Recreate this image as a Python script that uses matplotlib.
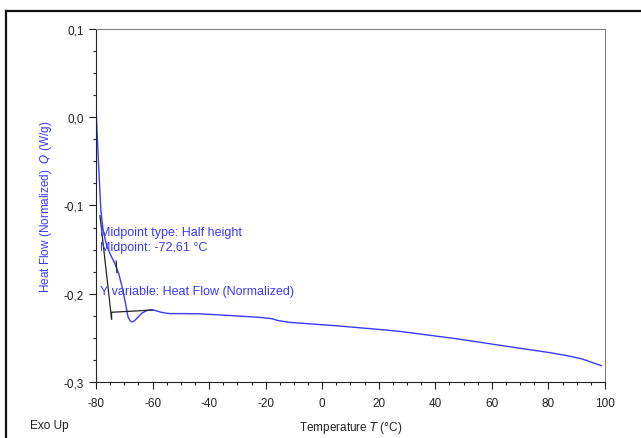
import matplotlib.pyplot as plt
from matplotlib.lines import Line2D
from matplotlib.ticker import MultipleLocator, FuncFormatter

plt.rcParams['font.family'] = ['Liberation Sans', 'DejaVu Sans']
plt.rcParams['axes.unicode_minus'] = False

# DSC curve
temp = [-79.9, -79.6, -79.0, -78.3, -77.5, -76.2, -75.0, -73.3, -71.9, -70.8,
        -69.7, -68.7, -67.9, -67.3, -66.5, -65.6, -63.8, -62.0, -60.3, -58.5,
        -57.0, -54.0, -50.0, -43.0, -32.0, -22.0, -18.0, -15.5, -11.4, 3.8,
        20.4, 27.5, 47.5, 67.6, 80.0, 86.4, 92.0, 98.7]
heat = [0.005, -0.02, -0.06, -0.105, -0.128, -0.146, -0.155, -0.166, -0.178, -0.192,
        -0.209, -0.226, -0.231, -0.232, -0.231, -0.228, -0.222, -0.219, -0.218, -0.2195,
        -0.221, -0.2225, -0.2225, -0.2228, -0.2248, -0.2268, -0.2282, -0.2305, -0.2325, -0.236,
        -0.2405, -0.2427, -0.251, -0.2607, -0.2665, -0.270, -0.274, -0.2815]

# glass transition construction lines
tangent_t = [-78.6, -74.5]
tangent_q = [-0.1115, -0.2286]
base_t = [-74.5, -74.5, -60.0]
base_q = [-0.2286, -0.221, -0.2185]
mid_t = [-72.9, -72.6]
mid_q = [-0.163, -0.176]

blue = '#3a3aff'

fig = plt.figure(figsize=(6.41, 4.39), dpi=100)
ax = fig.add_axes([0.1498, 0.1276, 0.794, 0.8041])

ax.plot(temp, heat, color=blue, lw=1.0)
ax.plot(tangent_t, tangent_q, color='#222222', lw=0.9)
ax.plot(base_t, base_q, color='#222222', lw=0.9)
ax.plot(mid_t, mid_q, color='#222222', lw=0.9)

ax.text(-78.6, -0.134, 'Midpoint type: Half height', color=blue, fontsize=9)
ax.text(-78.6, -0.151, 'Midpoint: -72,61 °C', color=blue, fontsize=9)
ax.text(-78.6, -0.200, 'Y variable: Heat Flow (Normalized)', color=blue, fontsize=9)

ax.set_xlim(-80, 100)
ax.set_ylim(-0.3, 0.1)
ax.xaxis.set_major_locator(MultipleLocator(20))
ax.xaxis.set_minor_locator(MultipleLocator(5))
ax.yaxis.set_major_locator(MultipleLocator(0.1))
ax.yaxis.set_minor_locator(MultipleLocator(0.025))
ax.yaxis.set_major_formatter(FuncFormatter(lambda v, p: f'{v:.1f}'.replace('.', ',').replace('-0,0', '0,0')))
ax.tick_params(which='major', direction='out', length=5, width=0.8, labelsize=8.5, colors='#222222')
ax.tick_params(axis='x', which='major', pad=6)
ax.tick_params(which='minor', direction='out', length=2.5, width=0.8, colors='#222222')

for s in ['left', 'bottom']:
    ax.spines[s].set_color('#222222')
for s in ['top', 'right']:
    ax.spines[s].set_color('#808080')

ax.set_ylabel('Heat Flow (Normalized)  $\\mathit{Q}$ (W/g)', color=blue, fontsize=8.5, labelpad=7)
ax.set_xlabel('Temperature $\\mathit{T}$ (°C)', color='#222222', fontsize=8.5, labelpad=7)
fig.text(30 / 641, 1 - 426 / 439, 'Exo Up', fontsize=8.5, va='center', color='#222222')

# outer frame
fig.add_artist(Line2D([6 / 641, 1.0], [1 - 12 / 439, 1 - 12 / 439], color='#111111', lw=1.6))
fig.add_artist(Line2D([6 / 641, 6 / 641], [1 - 12 / 439, 0.0], color='#111111', lw=1.6))

fig.savefig('out.png', dpi=100)
